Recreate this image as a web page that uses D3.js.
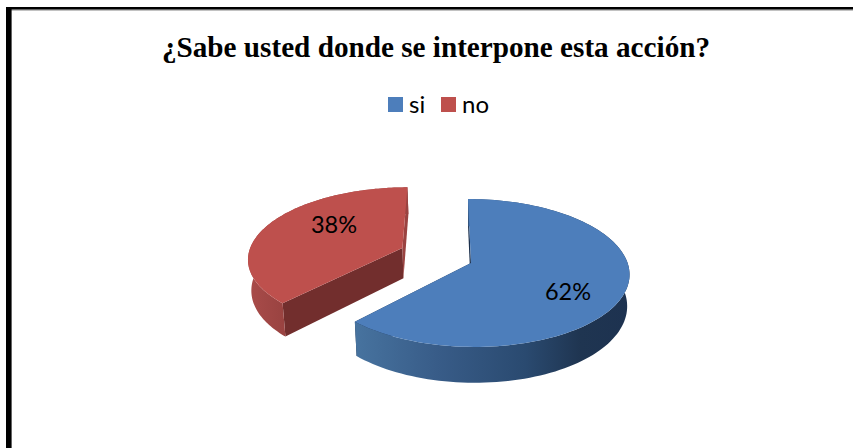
<!DOCTYPE html>
<html lang="es">
<head>
<meta charset="utf-8">
<script src="https://cdn.jsdelivr.net/npm/d3@7"></script>
<style>
  html, body { margin: 0; padding: 0; background: #fff; }
  svg { display: block; }
</style>
</head>
<body>
<svg id="chart" width="853" height="448"></svg>
<script>
// Chart content
const chartTitle = "¿Sabe usted donde se interpone esta acción?";
const categories = ["si", "no"];
const values = [62, 38];
const topColors = ["#4d7ebb", "#be504d"];
const cutWallColors = ["#1c304c", "#722e2d"];
const outerWallStops = [
  [["0%", "#47739f"], ["30%", "#385c88"], ["62%", "#2a4a70"], ["82%", "#1f3551"], ["100%", "#1d3250"]],
  [["0%", "#a94c4a"], ["100%", "#9a4341"]]
];

// Perspective of the tilted disc: unit-circle coordinates to screen pixels
const view = {
  cx: 471, cy: 263, rx: 156.6, ry: 72.6,
  taper: 0.135, skew: -3.4, depth: 31, baseShrink: 0.985
};
// "no" slice is pulled away from the centre of the pie
const explode = [0, 0.494];
const explodeDirection = -64.5 * Math.PI / 180;

function project(u, v, lifted) {
  const w = 1 + view.taper * v;
  const x = (view.rx * u + view.skew * v) / w;
  const y = -view.ry * v / w;
  if (lifted) return [view.cx + x, view.cy + y];
  return [view.cx + x * view.baseShrink, view.cy + y + view.depth / w];
}

const svg = d3.select("#chart");
const defs = svg.append("defs");

// Frame: only the top and left rules are inside the page
svg.append("rect").attr("x", 6).attr("y", 7).attr("width", 847).attr("height", 2.6).attr("fill", "#000");
svg.append("rect").attr("x", 6).attr("y", 9.6).attr("width", 847).attr("height", 0.8).attr("fill", "#666");
svg.append("rect").attr("x", 6).attr("y", 7).attr("width", 5.6).attr("height", 441).attr("fill", "#000");

svg.append("text")
  .attr("x", 436).attr("y", 57)
  .attr("text-anchor", "middle")
  .attr("font-family", "'Liberation Serif', serif")
  .attr("font-weight", "bold")
  .attr("font-size", 29.2)
  .attr("fill", "#000")
  .text(chartTitle);

// Legend
const legendSwatchX = d3.scalePoint().domain(categories).range([388, 441]);
const legend = svg.append("g").selectAll("g").data(categories).join("g")
  .attr("transform", d => `translate(${legendSwatchX(d)},97)`);
legend.append("rect")
  .attr("width", 15).attr("height", 15)
  .attr("fill", (d, i) => topColors[i]);
legend.append("text")
  .attr("x", 21).attr("y", 16)
  .attr("font-family", "Lato, sans-serif")
  .attr("font-size", 24)
  .attr("fill", "#000")
  .text(d => d);

// Slices
const slices = d3.pie().sort(null).value(d => d)(values);
const line = d3.line();
const total = d3.sum(values);

slices.forEach((s, i) => {
  const ox = explode[i] * Math.sin(explodeDirection);
  const oy = explode[i] * Math.cos(explodeDirection);
  const samples = d3.range(0, 121).map(k => s.startAngle + (s.endAngle - s.startAngle) * k / 120);
  const rim = lifted => samples.map(a => project(ox + Math.sin(a), oy + Math.cos(a), lifted));
  const hub = lifted => project(ox, oy, lifted);
  const topRim = rim(true), baseRim = rim(false);

  // Shading of the outer wall runs across its visible front part
  const front = topRim.filter((p, k) => Math.cos(samples[k]) < 0.2).map(p => p[0]);
  const grad = defs.append("linearGradient")
    .attr("id", "wall-" + i)
    .attr("gradientUnits", "userSpaceOnUse")
    .attr("x1", d3.min(front)).attr("x2", d3.max(front))
    .attr("y1", 0).attr("y2", 0);
  grad.selectAll("stop").data(outerWallStops[i]).join("stop")
    .attr("offset", d => d[0]).attr("stop-color", d => d[1]);

  const g = svg.append("g");

  // Straight cut walls from the hub to each end of the rim
  [0, topRim.length - 1].forEach(end => {
    const shade = (i === 1 && end === topRim.length - 1) ? outerWallStops[1][1][1] : cutWallColors[i];
    g.append("path")
      .attr("d", line([hub(true), topRim[end], baseRim[end], hub(false)]) + "Z")
      .attr("fill", shade);
  });

  // Outer wall
  g.append("path")
    .attr("d", line(topRim.concat(baseRim.slice().reverse())) + "Z")
    .attr("fill", `url(#wall-${i})`);

  // Top face
  g.append("path")
    .attr("d", line([hub(true)].concat(topRim)) + "Z")
    .attr("fill", topColors[i]);
});

// Percentage labels
const labelAnchor = [[568, 300], [334, 233]];
svg.append("g").selectAll("text").data(slices).join("text")
  .attr("x", (d, i) => labelAnchor[i][0])
  .attr("y", (d, i) => labelAnchor[i][1])
  .attr("text-anchor", "middle")
  .attr("font-family", "Lato, sans-serif")
  .attr("font-size", 23.5)
  .attr("fill", "#000")
  .text(d => Math.round(d.value / total * 100) + "%");
</script>
</body>
</html>
